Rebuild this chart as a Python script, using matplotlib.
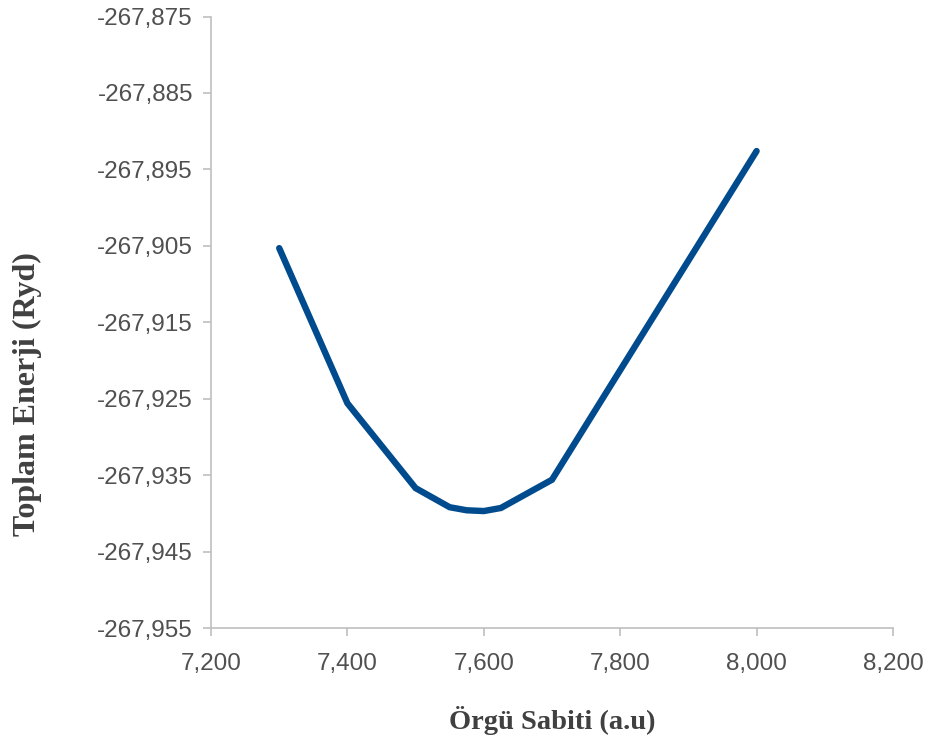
import matplotlib
matplotlib.use("Agg")
import matplotlib.pyplot as plt
from matplotlib.ticker import FuncFormatter, FixedLocator

# lattice constant (a.u) vs total energy (Ryd)
lattice = [7.300, 7.400, 7.500, 7.550, 7.575, 7.600, 7.625, 7.700, 8.000]
energy = [-267.9053, -267.9256, -267.9367, -267.9392, -267.9396,
          -267.9397, -267.9393, -267.9356, -267.8926]

x_ticks = [7.2, 7.4, 7.6, 7.8, 8.0, 8.2]
y_ticks = [-267.955, -267.945, -267.935, -267.925, -267.915,
           -267.905, -267.895, -267.885, -267.875]

x_label = "Örgü Sabiti (a.u)"
y_label = "Toplam Enerji (Ryd)"


def comma_fmt(decimals):
    return FuncFormatter(lambda v, _: f"{v:.{decimals}f}".replace(".", ","))


fig = plt.figure(figsize=(9.30, 7.47), dpi=100)
ax = fig.add_axes([0.2269, 0.1593, 0.7333, 0.8186])

ax.plot(lattice, energy, color="#004b8d", lw=4.6, solid_capstyle="round",
        solid_joinstyle="miter")

ax.set_xlim(x_ticks[0], x_ticks[-1])
ax.set_ylim(y_ticks[0], y_ticks[-1])
ax.xaxis.set_major_locator(FixedLocator(x_ticks))
ax.yaxis.set_major_locator(FixedLocator(y_ticks))
ax.xaxis.set_major_formatter(comma_fmt(3))
ax.yaxis.set_major_formatter(comma_fmt(3))

for side in ("top", "right"):
    ax.spines[side].set_visible(False)
for side in ("left", "bottom"):
    ax.spines[side].set_color("#bfbfbf")
    ax.spines[side].set_linewidth(1.2)

ax.tick_params(direction="out", length=6, width=1.2, color="#bfbfbf",
               labelcolor="#505050", labelsize=17.5, pad=7)
ax.tick_params(axis="x", pad=12)
for lab in ax.get_xticklabels() + ax.get_yticklabels():
    lab.set_fontfamily("Liberation Sans")

ax.set_xlabel(x_label, fontfamily="Liberation Serif", fontweight="bold",
              fontsize=20.5, color="#404040", labelpad=22)
# y title sits a bit below the axis midpoint, close to the figure edge
fig.text(0.029, 0.473, y_label, rotation=90, ha="center", va="center",
         fontfamily="Liberation Serif", fontweight="bold", fontsize=23,
         color="#404040")

fig.savefig("out.png", dpi=100)
